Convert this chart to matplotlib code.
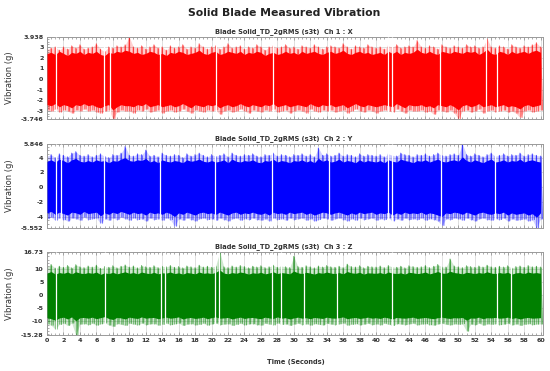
import numpy as np
import matplotlib
matplotlib.use('Agg')
import matplotlib.pyplot as plt
from matplotlib.ticker import MultipleLocator

# envelope, one value every 0.5 s (0 .. 60 s)
# *_hi / *_lo : outer spikes, *_bhi / *_blo : edge of the dense body
t = np.arange(121) * 0.5

x_hi = [2.8, 2.9, 3.0, 2.7, 3.0, 2.8, 3.1, 2.9, 3.2, 2.8,
        2.9, 3.0, 3.3, 2.8, 2.6, 3.0, 2.9, 3.1, 3.0, 3.2,
        3.94, 3.0, 2.9, 3.1, 2.8, 3.0, 3.2, 2.9, 3.0, 2.7,
        3.1, 2.9, 3.0, 3.2, 2.8, 3.0, 2.9, 3.3, 3.0, 2.8,
        3.0, 3.1, 2.8, 3.0, 3.3, 2.9, 3.0, 3.1, 2.8, 3.0,
        2.9, 3.2, 3.0, 2.7, 3.0, 3.1, 2.9, 3.0, 3.2, 2.9,
        3.0, 2.8, 3.1, 3.0, 2.9, 3.2, 3.0, 2.8, 3.0, 3.1,
        3.0, 2.9, 3.3, 3.0, 2.8, 3.1, 3.0, 2.9, 3.2, 3.0,
        2.9, 3.0, 2.8, 3.1, 3.0, 3.2, 2.9, 3.0, 3.1, 3.0,
        3.6, 3.0, 2.9, 3.1, 3.0, 2.8, 3.2, 3.0, 2.9, 3.1,
        3.0, 2.9, 3.2, 3.0, 3.1, 2.9, 3.0, 3.75, 3.0, 2.9,
        3.1, 3.0, 2.8, 3.2, 3.0, 2.9, 3.1, 3.0, 3.2, 3.4,
        3.0]
x_lo = [-2.9, -3.0, -2.8, -3.1, -2.9, -3.0, -3.2, -2.9, -3.0, -2.8,
        -3.0, -2.9, -3.1, -3.2, -3.0, -2.9, -3.7, -3.1, -2.9, -3.0,
        -3.0, -3.2, -2.9, -3.0, -2.8, -3.1, -3.0, -2.9, -3.2, -3.0,
        -2.9, -3.1, -3.0, -2.8, -3.0, -3.2, -2.9, -3.0, -3.1, -2.9,
        -3.0, -2.9, -3.3, -3.0, -2.9, -3.1, -3.0, -2.8, -3.0, -3.2,
        -2.9, -3.0, -3.1, -2.9, -3.0, -2.8, -3.1, -3.0, -2.9, -3.2,
        -3.0, -2.9, -3.0, -3.2, -2.8, -3.0, -3.1, -2.9, -3.0, -2.9,
        -3.1, -3.0, -2.9, -3.2, -3.0, -2.8, -3.0, -3.1, -2.9, -3.0,
        -3.2, -3.0, -2.9, -3.0, -3.1, -2.8, -3.0, -3.2, -2.9, -3.0,
        -3.0, -2.9, -3.1, -3.0, -3.3, -2.9, -3.0, -3.1, -2.9, -3.2,
        -3.7, -3.0, -2.9, -3.1, -3.0, -2.8, -3.2, -3.0, -2.9, -3.1,
        -3.0, -2.9, -3.1, -3.0, -3.2, -3.6, -3.0, -2.9, -3.1, -3.0,
        -2.9]
x_bhi = [2.4, 2.5, 2.3, 2.6, 2.4, 2.2, 2.5, 2.4, 2.6, 2.3,
         2.5, 2.4, 2.6, 2.3, 2.2, 2.5, 2.4, 2.6, 2.5, 2.7,
         2.6, 2.4, 2.5, 2.3, 2.4, 2.6, 2.5, 2.3, 2.4, 2.2,
         2.5, 2.4, 2.6, 2.5, 2.3, 2.4, 2.5, 2.7, 2.4, 2.3,
         2.5, 2.6, 2.3, 2.4, 2.6, 2.5, 2.4, 2.6, 2.3, 2.5,
         2.4, 2.6, 2.5, 2.2, 2.4, 2.5, 2.3, 2.4, 2.6, 2.4,
         2.5, 2.3, 2.6, 2.4, 2.5, 2.6, 2.4, 2.3, 2.5, 2.6,
         2.4, 2.5, 2.7, 2.4, 2.3, 2.5, 2.6, 2.4, 2.5, 2.3,
         2.4, 2.5, 2.3, 2.6, 2.4, 2.6, 2.3, 2.5, 2.4, 2.5,
         2.8, 2.5, 2.4, 2.6, 2.4, 2.3, 2.6, 2.5, 2.4, 2.6,
         2.5, 2.4, 2.6, 2.5, 2.6, 2.3, 2.5, 2.8, 2.4, 2.3,
         2.6, 2.5, 2.3, 2.6, 2.4, 2.5, 2.6, 2.4, 2.6, 2.7,
         2.5]
x_blo = [-2.4, -2.5, -2.3, -2.6, -2.4, -2.5, -2.7, -2.4, -2.5, -2.3,
         -2.5, -2.4, -2.6, -2.7, -2.5, -2.4, -2.9, -2.6, -2.4, -2.5,
         -2.5, -2.6, -2.4, -2.5, -2.3, -2.6, -2.5, -2.4, -2.6, -2.5,
         -2.4, -2.6, -2.5, -2.3, -2.5, -2.7, -2.4, -2.5, -2.6, -2.4,
         -2.5, -2.4, -2.7, -2.5, -2.4, -2.6, -2.5, -2.3, -2.5, -2.6,
         -2.4, -2.5, -2.6, -2.4, -2.5, -2.3, -2.6, -2.5, -2.4, -2.6,
         -2.5, -2.4, -2.5, -2.6, -2.3, -2.5, -2.6, -2.4, -2.5, -2.4,
         -2.6, -2.5, -2.4, -2.7, -2.5, -2.3, -2.5, -2.6, -2.4, -2.5,
         -2.6, -2.5, -2.4, -2.5, -2.6, -2.3, -2.5, -2.7, -2.4, -2.5,
         -2.5, -2.4, -2.6, -2.5, -2.7, -2.4, -2.5, -2.6, -2.4, -2.6,
         -2.9, -2.5, -2.4, -2.6, -2.5, -2.3, -2.6, -2.5, -2.4, -2.6,
         -2.5, -2.4, -2.6, -2.5, -2.6, -2.8, -2.5, -2.4, -2.6, -2.5,
         -2.4]

y_hi = [4.2, 4.4, 4.0, 4.5, 4.3, 4.1, 4.6, 4.8, 4.3, 4.2,
        4.4, 4.1, 4.3, 4.5, 4.2, 4.0, 4.4, 4.3, 4.6, 5.5,
        4.3, 4.2, 4.5, 4.4, 5.0, 4.2, 4.3, 4.1, 4.6, 4.3,
        4.2, 4.4, 4.3, 4.0, 4.5, 4.2, 4.4, 4.6, 4.3, 4.1,
        4.4, 4.2, 4.3, 4.5, 4.1, 4.6, 4.3, 4.2, 4.4, 4.3,
        4.5, 4.2, 4.1, 4.4, 4.3, 4.6, 4.2, 4.4, 4.3, 4.1,
        4.4, 4.3, 4.5, 4.2, 4.4, 4.1, 5.3, 4.3, 4.5, 4.2,
        4.3, 4.6, 4.2, 4.4, 4.3, 4.1, 4.5, 4.2, 4.4, 4.3,
        4.2, 4.4, 4.1, 4.5, 4.3, 4.2, 4.6, 4.4, 4.3, 4.1,
        4.4, 4.3, 4.5, 4.2, 4.4, 4.6, 4.3, 4.2, 4.4, 4.5,
        4.3, 5.846, 4.4, 4.2, 4.5, 4.3, 4.1, 4.4, 4.6, 4.2,
        4.3, 4.5, 4.2, 4.4, 4.3, 4.6, 4.2, 4.4, 4.5, 4.3,
        4.2]
y_lo = [-4.3, -4.1, -4.5, -4.2, -4.4, -4.6, -4.2, -4.3, -4.5, -4.1,
        -4.4, -4.3, -4.2, -4.9, -4.3, -4.5, -4.2, -4.4, -4.1, -4.3,
        -4.5, -4.2, -4.4, -4.3, -4.6, -4.2, -4.4, -4.3, -4.5, -4.2,
        -4.4, -5.3, -4.3, -4.5, -4.2, -4.4, -4.6, -4.3, -4.2, -4.4,
        -4.3, -4.5, -4.2, -4.4, -4.6, -4.3, -4.2, -4.5, -4.3, -4.4,
        -4.2, -4.4, -4.5, -4.3, -4.6, -4.2, -4.4, -4.3, -4.5, -4.2,
        -4.4, -4.3, -4.2, -4.5, -4.3, -4.6, -4.4, -4.2, -4.3, -4.5,
        -4.3, -4.2, -4.4, -4.6, -4.3, -4.5, -4.2, -4.4, -4.3, -4.2,
        -4.5, -4.3, -4.4, -4.2, -4.6, -4.3, -4.5, -4.2, -4.4, -4.3,
        -4.4, -4.2, -4.5, -4.3, -4.4, -4.6, -5.2, -4.3, -4.4, -4.2,
        -4.3, -4.5, -4.2, -4.4, -4.6, -4.3, -4.2, -4.4, -4.5, -4.3,
        -4.4, -4.2, -4.6, -4.3, -4.5, -4.4, -4.3, -4.6, -4.4, -5.55,
        -4.3]
y_bhi = [3.5, 3.7, 3.4, 3.8, 3.6, 3.3, 3.7, 3.9, 3.5, 3.4,
         3.6, 3.4, 3.7, 3.5, 3.6, 3.3, 3.6, 3.5, 3.8, 4.0,
         3.6, 3.5, 3.7, 3.6, 3.9, 3.4, 3.6, 3.3, 3.7, 3.5,
         3.4, 3.6, 3.5, 3.3, 3.7, 3.5, 3.6, 3.8, 3.5, 3.4,
         3.6, 3.4, 3.5, 3.7, 3.3, 3.8, 3.5, 3.4, 3.6, 3.5,
         3.7, 3.4, 3.3, 3.6, 3.5, 3.8, 3.4, 3.6, 3.5, 3.3,
         3.6, 3.5, 3.7, 3.4, 3.6, 3.3, 3.9, 3.5, 3.7, 3.4,
         3.5, 3.8, 3.4, 3.6, 3.5, 3.3, 3.7, 3.4, 3.6, 3.5,
         3.4, 3.6, 3.3, 3.7, 3.5, 3.4, 3.8, 3.6, 3.5, 3.3,
         3.6, 3.5, 3.7, 3.4, 3.6, 3.8, 3.5, 3.4, 3.6, 3.7,
         3.5, 4.1, 3.6, 3.4, 3.7, 3.5, 3.3, 3.6, 3.8, 3.4,
         3.5, 3.7, 3.4, 3.6, 3.5, 3.8, 3.4, 3.6, 3.7, 3.5,
         3.4]
y_blo = [-3.5, -3.3, -3.7, -3.4, -3.6, -3.8, -3.4, -3.5, -3.7, -3.3,
         -3.6, -3.5, -3.4, -3.9, -3.5, -3.7, -3.4, -3.6, -3.3, -3.5,
         -3.7, -3.4, -3.6, -3.5, -3.8, -3.4, -3.6, -3.5, -3.7, -3.4,
         -3.6, -4.0, -3.5, -3.7, -3.4, -3.6, -3.8, -3.5, -3.4, -3.6,
         -3.5, -3.7, -3.4, -3.6, -3.8, -3.5, -3.4, -3.7, -3.5, -3.6,
         -3.4, -3.6, -3.7, -3.5, -3.8, -3.4, -3.6, -3.5, -3.7, -3.4,
         -3.6, -3.5, -3.4, -3.7, -3.5, -3.8, -3.6, -3.4, -3.5, -3.7,
         -3.5, -3.4, -3.6, -3.8, -3.5, -3.7, -3.4, -3.6, -3.5, -3.4,
         -3.7, -3.5, -3.6, -3.4, -3.8, -3.5, -3.7, -3.4, -3.6, -3.5,
         -3.6, -3.4, -3.7, -3.5, -3.6, -3.8, -4.0, -3.5, -3.6, -3.4,
         -3.5, -3.7, -3.4, -3.6, -3.8, -3.5, -3.4, -3.6, -3.7, -3.5,
         -3.6, -3.4, -3.8, -3.5, -3.7, -3.6, -3.5, -3.8, -3.6, -4.1,
         -3.5]

z_hi = [11.0, 11.9, 10.5, 11.2, 10.8, 11.5, 10.6, 11.8, 11.0, 10.7,
        11.3, 10.9, 11.6, 10.4, 11.1, 10.8, 11.4, 10.6, 11.2, 11.7,
        10.9, 11.3, 10.6, 11.5, 11.0, 10.8, 11.4, 10.7, 11.2, 11.0,
        11.5, 10.8, 11.1, 10.6, 11.3, 11.0, 10.7, 11.6, 10.9, 11.2,
        10.8, 11.4, 16.73, 11.0, 10.7, 11.3, 10.9, 11.5, 11.1, 10.6,
        11.2, 10.9, 11.4, 10.7, 11.0, 11.6, 10.8, 11.3, 11.0, 10.7,
        15.0, 11.1, 10.8, 11.4, 11.0, 10.6, 11.3, 10.9, 11.5, 11.0,
        10.8, 11.2, 10.7, 12.0, 11.1, 10.9, 11.4, 10.6, 11.2, 11.0,
        10.9, 11.3, 10.7, 11.5, 11.0, 10.8, 11.2, 10.6, 11.4, 11.1,
        10.8, 11.0, 11.5, 10.7, 11.2, 11.9, 11.0, 10.9, 14.0, 11.3,
        11.0, 10.7, 11.4, 11.1, 10.8, 11.3, 10.9, 11.6, 11.0, 10.8,
        11.2, 10.9, 11.4, 10.6, 11.1, 11.3, 10.8, 11.5, 11.0, 11.2,
        10.9]
z_lo = [-11.0, -11.5, -13.0, -11.2, -10.8, -11.6, -10.7, -15.28, -11.1, -10.9,
        -11.3, -10.8, -11.5, -11.0, -10.6, -11.4, -12.0, -10.9, -11.2, -11.6,
        -10.8, -11.1, -11.4, -10.7, -11.3, -11.0, -10.9, -11.5, -11.2, -10.8,
        -11.3, -11.0, -10.7, -11.6, -11.1, -10.9, -11.4, -11.2, -10.8, -11.5,
        -11.0, -10.7, -11.3, -11.1, -10.9, -11.6, -11.2, -10.8, -11.4, -11.0,
        -10.9, -11.3, -11.5, -10.8, -11.1, -11.4, -10.7, -11.2, -11.0, -11.6,
        -11.1, -10.8, -11.3, -11.0, -11.5, -10.9, -11.2, -11.4, -10.8, -11.1,
        -11.3, -11.0, -10.7, -11.5, -11.2, -10.9, -11.4, -11.1, -10.8, -11.3,
        -11.0, -11.4, -10.8, -11.2, -11.6, -10.9, -11.1, -11.3, -11.0, -10.8,
        -11.4, -11.1, -10.9, -11.3, -11.5, -11.0, -10.8, -11.2, -11.4, -11.0,
        -11.2, -10.9, -13.8, -11.1, -11.3, -10.8, -11.5, -11.0, -11.2, -10.9,
        -11.3, -11.1, -10.8, -11.4, -11.0, -11.6, -11.2, -10.9, -11.3, -11.1,
        -11.0]
z_bhi = [8.6, 9.2, 8.2, 8.8, 8.5, 9.0, 8.3, 9.1, 8.6, 8.4,
         8.8, 8.5, 9.0, 8.1, 8.7, 8.4, 8.9, 8.3, 8.7, 9.1,
         8.5, 8.8, 8.3, 9.0, 8.6, 8.4, 8.9, 8.3, 8.7, 8.6,
         9.0, 8.4, 8.7, 8.2, 8.8, 8.6, 8.3, 9.0, 8.5, 8.7,
         8.4, 8.9, 9.8, 8.6, 8.3, 8.8, 8.5, 9.0, 8.7, 8.2,
         8.7, 8.5, 8.9, 8.3, 8.6, 9.1, 8.4, 8.8, 8.6, 8.3,
         9.4, 8.7, 8.4, 8.9, 8.6, 8.2, 8.8, 8.5, 9.0, 8.6,
         8.4, 8.8, 8.3, 9.2, 8.7, 8.5, 8.9, 8.2, 8.7, 8.6,
         8.5, 8.8, 8.3, 9.0, 8.6, 8.4, 8.7, 8.2, 8.9, 8.7,
         8.4, 8.6, 9.0, 8.3, 8.7, 9.2, 8.6, 8.5, 9.3, 8.8,
         8.6, 8.3, 8.9, 8.7, 8.4, 8.8, 8.5, 9.1, 8.6, 8.4,
         8.8, 8.5, 8.9, 8.2, 8.7, 8.8, 8.4, 9.0, 8.6, 8.8,
         8.5]
z_blo = [-8.6, -9.0, -9.6, -8.7, -8.4, -9.1, -8.3, -9.8, -8.6, -8.5,
         -8.8, -8.4, -9.0, -8.6, -8.2, -8.9, -9.3, -8.5, -8.7, -9.1,
         -8.4, -8.7, -8.9, -8.3, -8.8, -8.6, -8.5, -9.0, -8.7, -8.4,
         -8.8, -8.6, -8.3, -9.1, -8.7, -8.5, -8.9, -8.7, -8.4, -9.0,
         -8.6, -8.3, -8.8, -8.7, -8.5, -9.1, -8.7, -8.4, -8.9, -8.6,
         -8.5, -8.8, -9.0, -8.4, -8.7, -8.9, -8.3, -8.8, -8.6, -9.1,
         -8.7, -8.4, -8.8, -8.6, -9.0, -8.5, -8.7, -8.9, -8.4, -8.7,
         -8.8, -8.6, -8.3, -9.0, -8.7, -8.5, -8.9, -8.7, -8.4, -8.8,
         -8.6, -8.9, -8.4, -8.7, -9.1, -8.5, -8.7, -8.8, -8.6, -8.4,
         -8.9, -8.7, -8.5, -8.8, -9.0, -8.6, -8.4, -8.7, -8.9, -8.6,
         -8.7, -8.5, -9.6, -8.7, -8.8, -8.4, -9.0, -8.6, -8.7, -8.5,
         -8.8, -8.7, -8.4, -8.9, -8.6, -9.1, -8.7, -8.5, -8.8, -8.7,
         -8.6]

# short drop-outs (white vertical lines), seconds
x_gaps = [1.1, 6.9, 7.6, 13.7, 20.5, 27.5, 34.3, 41.4, 42.0, 47.8, 53.4, 54.7]
y_gaps = [1.1, 1.7, 6.9, 13.7, 20.4, 27.4, 34.3, 41.4, 42.0, 47.9, 54.5]
z_gaps = [1.1, 7.0, 13.8, 14.4, 20.4, 20.9, 27.4, 28.4, 31.2, 35.3, 42.0, 47.9, 54.7, 56.4]

x_ticks = [-3.746, -3, -2, -1, 0, 1, 2, 3, 3.938]
y_ticks = [-5.552, -4, -2, 0, 2, 4, 5.846]
z_ticks = [-15.28, -10, -5, 0, 5, 10, 16.73]

channels = [
    ('Blade Solid_TD_2gRMS (s3t)  Ch 1 : X', x_hi, x_lo, x_bhi, x_blo, x_gaps, x_ticks, '#ff0000'),
    ('Blade Solid_TD_2gRMS (s3t)  Ch 2 : Y', y_hi, y_lo, y_bhi, y_blo, y_gaps, y_ticks, '#0000ff'),
    ('Blade Solid_TD_2gRMS (s3t)  Ch 3 : Z', z_hi, z_lo, z_bhi, z_blo, z_gaps, z_ticks, '#008000'),
]

W, H = 550, 371
fig = plt.figure(figsize=(W / 100, H / 100), dpi=100)
boxes = [(37, 119), (144, 228), (252, 335)]   # pixel top, bottom
left, right = 47, 543
t_end = 60.3

for (title, hi, lo, bhi, blo, gaps, ticks, col), (top, bot) in zip(channels, boxes):
    ax = fig.add_axes([left / W, 1 - bot / H, (right - left) / W, (bot - top) / H])

    # outer spikes: max and min a quarter second apart, like the raw trace
    tz = np.column_stack([t, t + 0.25]).ravel()
    vz = np.column_stack([hi, lo]).ravel()
    ax.fill_between(t, lo, hi, color=col, alpha=0.18, lw=0, zorder=2)
    ax.plot(tz, vz, color=col, alpha=0.55, lw=0.8, zorder=2)
    ax.vlines(t, lo, hi, color=col, alpha=0.4, lw=0.8, zorder=2)
    # dense body
    ax.fill_between(t, blo, bhi, color=col, lw=0, zorder=3)
    ax.vlines(gaps, ticks[0], ticks[-1], color='white', lw=0.9, zorder=4)

    ax.set_xlim(0, t_end)
    ax.set_ylim(ticks[0], ticks[-1])
    ax.set_yticks(ticks)
    ax.set_yticklabels([('%g' % v) for v in ticks])
    ax.yaxis.set_minor_locator(MultipleLocator((ticks[2] - ticks[1]) / 4))
    ax.xaxis.set_major_locator(MultipleLocator(2))
    ax.xaxis.set_minor_locator(MultipleLocator(0.5))
    ax.grid(True, which='major', color='#d9d9d9', lw=0.6, zorder=0)
    ax.set_axisbelow(True)
    ax.tick_params(which='both', direction='in', colors='#888888', labelcolor='#333333',
                   labelsize=4.6, top=True, right=False, pad=2.5)
    ax.tick_params(which='major', length=2.5, width=0.5)
    ax.tick_params(which='minor', length=1.5, width=0.5)
    for lab in ax.get_xticklabels() + ax.get_yticklabels():
        lab.set_fontweight('bold')
    for s in ax.spines.values():
        s.set_color('#9a9a9a')
        s.set_linewidth(0.7)
    ax.set_title(title, fontsize=4.8, fontweight='bold', color='#333333', pad=3, x=0.478)
    ax.set_ylabel('Vibration (g)', fontsize=6, color='#333333')
    ax.yaxis.set_label_coords(-0.067, 0.5)
    if top != 252:
        ax.set_xticklabels([])

fig.text(0.516, 1 - 12.5 / H, 'Solid Blade Measured Vibration', ha='center', va='center',
         fontsize=7.8, fontweight='bold', color='#222222')
fig.text(0.538, 1 - 362 / H, 'Time (Seconds)', ha='center', va='center',
         fontsize=4.8, fontweight='bold', color='#333333')

fig.savefig('out.png', dpi=100)
